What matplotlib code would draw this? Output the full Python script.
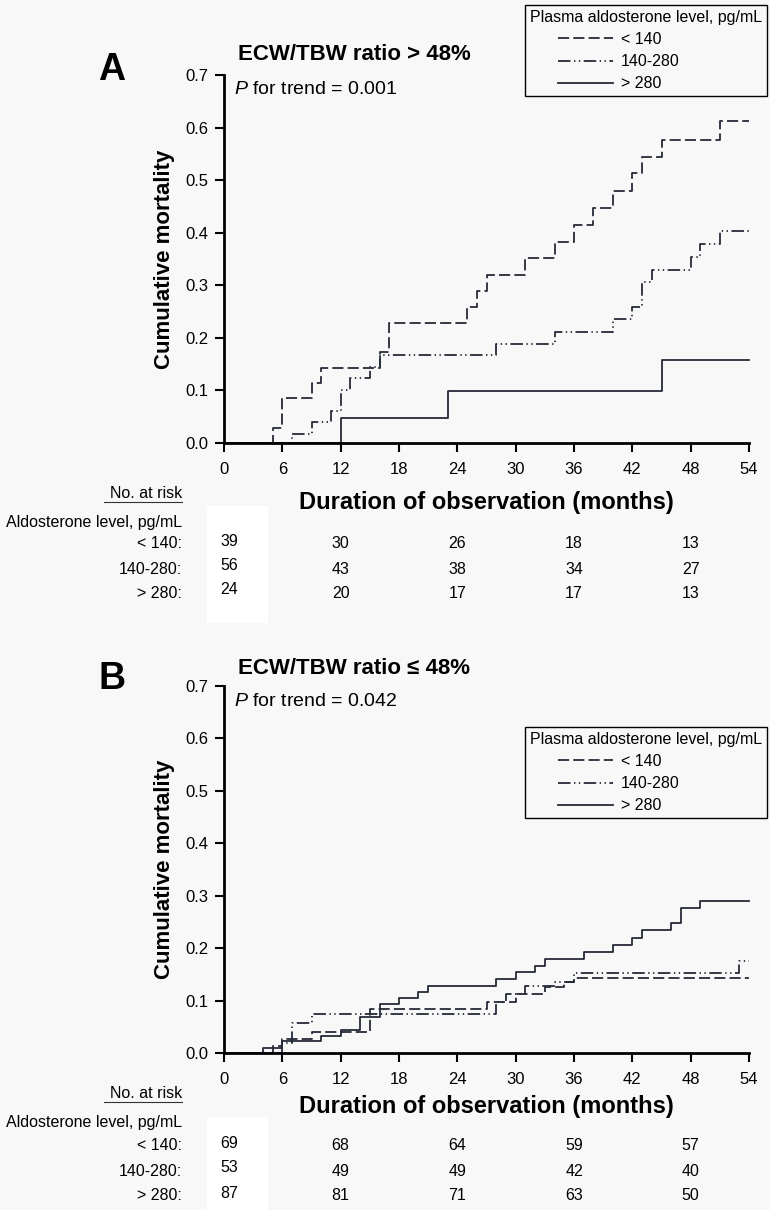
import matplotlib
matplotlib.use("Agg")
import matplotlib.pyplot as plt
from matplotlib.lines import Line2D
from matplotlib.legend_handler import HandlerLine2D
from matplotlib.patches import Rectangle
from matplotlib.transforms import blended_transform_factory

# ---- data ----
months = [0, 6, 12, 18, 24, 30, 36, 42, 48, 54]
yticks = [0.0, 0.1, 0.2, 0.3, 0.4, 0.5, 0.6, 0.7]
group_labels = ["< 140", "140-280", "> 280"]
row_labels = ["< 140:", "140-280:", "> 280:"]
risk_months = [0, 12, 24, 36, 48]

# panel A  (ECW/TBW > 48%)
a_lt140_t = [0, 5, 6, 9, 10, 16, 17, 25, 26, 27, 31, 34, 36, 38, 40, 42, 43, 45, 51, 54]
a_lt140_y = [0, .028, .086, .114, .143, .173, .228, .259, .290, .320, .351, .383, .414, .447,
             .480, .513, .544, .577, .612, .612]
a_mid_t = [0, 7, 9, 11, 12, 13, 15, 16, 28, 34, 40, 42, 43, 44, 48, 49, 51, 54]
a_mid_y = [0, .018, .040, .061, .100, .124, .145, .167, .189, .211, .235, .259, .306, .330,
           .354, .378, .403, .403]
a_hi_t = [0, 12, 23, 45, 54]
a_hi_y = [0, .048, .098, .157, .157]
a_risk_lt140 = [39, 30, 26, 18, 13]
a_risk_mid = [56, 43, 38, 34, 27]
a_risk_hi = [24, 20, 17, 17, 13]

# panel B  (ECW/TBW <= 48%)
b_lt140_t = [0, 5, 6, 9, 15, 27, 30, 33, 35, 36, 54]
b_lt140_y = [0, .013, .027, .041, .084, .098, .112, .126, .135, .143, .143]
b_mid_t = [0, 6, 7, 9, 28, 29, 31, 34, 36, 53, 54]
b_mid_y = [0, .019, .057, .075, .097, .113, .127, .135, .153, .175, .175]
b_hi_t = [0, 4, 6, 10, 12, 14, 16, 18, 20, 21, 28, 30, 32, 33, 37, 40, 42, 43, 46, 47, 49, 54]
b_hi_y = [0, .010, .022, .032, .044, .069, .093, .105, .116, .128, .142, .154, .166, .180,
          .193, .206, .220, .234, .248, .276, .290, .290]
b_risk_lt140 = [69, 68, 64, 59, 57]
b_risk_mid = [53, 49, 49, 42, 40]
b_risk_hi = [87, 81, 71, 63, 50]

# ---- style ----
W, H = 770, 1210
BG = '#f8f8f8'
INK = '#252b38'
DASH = (0, (8, 3))
DASHDOT = (0, (9, 2.5, 1, 2.5, 1, 2.5))

plt.rcParams['font.family'] = ['Liberation Sans', 'DejaVu Sans']
plt.rcParams['mathtext.fontset'] = 'custom'
plt.rcParams['mathtext.it'] = 'Liberation Sans:italic'
plt.rcParams['mathtext.rm'] = 'Liberation Sans'
plt.rcParams['lines.scale_dashes'] = False


def fx(x):
    return x / W


def fy(y):
    return 1 - y / H


class IndentHandler(HandlerLine2D):
    # legend line drawn only on right part of the handle box -> indented entries
    def get_xdata(self, legend, xdescent, ydescent, width, height, fontsize):
        x0 = -xdescent + 0.34 * width
        return [x0, -xdescent + width], [x0]


fig = plt.figure(figsize=(W / 100, H / 100), dpi=100, facecolor=BG)


def draw_panel(top, bottom, letter, letter_y, title, title_y, ptext, p_y, curves, risks,
               leg_top, tab):
    # white strip behind the first risk column
    fig.add_artist(Rectangle((fx(207), fy(tab['box'][1])), (268 - 207) / W,
                             (tab['box'][1] - tab['box'][0]) / H,
                             transform=fig.transFigure, facecolor='white',
                             edgecolor='none', zorder=-5))

    ax = fig.add_axes([fx(224), fy(bottom), (749 - 224) / W, (bottom - top) / H])
    ax.set_facecolor(BG)
    styles = [DASH, DASHDOT, '-']
    for (t, y), ls, lab in zip(curves, styles, group_labels):
        ax.step(t, y, where='post', color=INK, lw=1.3, ls=ls, label=lab, clip_on=False)
    ax.set_xlim(0, 54)
    ax.set_ylim(0, 0.7)
    ax.set_xticks(months)
    ax.set_yticks(yticks)
    ax.set_yticklabels([f"{v:.1f}" for v in yticks])
    for s in ['top', 'right']:
        ax.spines[s].set_visible(False)
    for s in ['left', 'bottom']:
        ax.spines[s].set_linewidth(2)
        ax.spines[s].set_color('black')
    ax.tick_params(axis='both', direction='out', length=6.5, width=1.5, colors='black',
                   labelsize=12)
    ax.tick_params(axis='x', pad=7)
    ax.tick_params(axis='y', pad=5)
    ax.set_ylabel("Cumulative mortality", fontsize=16, fontweight='bold')
    ax.yaxis.set_label_coords(-0.093, 0.50)

    fig.text(fx(238), fy(title_y), title, fontsize=16, fontweight='bold', va='center')
    fig.text(fx(234), fy(p_y), ptext, fontsize=14, va='center')
    fig.text(fx(112), fy(letter_y), letter, fontsize=27, fontweight='bold',
             ha='center', va='center')

    leg = ax.legend(title="Plasma aldosterone level, pg/mL", loc='upper right',
                    bbox_to_anchor=(fx(767), fy(leg_top)), bbox_transform=fig.transFigure,
                    fontsize=11.5, title_fontsize=11.5, alignment='left', frameon=True,
                    fancybox=False, edgecolor='black', facecolor=BG, framealpha=1,
                    handlelength=5.2, handletextpad=0.5, labelspacing=0.45,
                    borderpad=0.3, borderaxespad=0,
                    handler_map={Line2D: IndentHandler()})
    leg.get_frame().set_linewidth(1)

    # number at risk table
    fig.text(fx(486.5), fy(tab['xlabel']), "Duration of observation (months)",
             fontsize=17, fontweight='bold', ha='center', va='center')
    fig.text(fx(182), fy(tab['no_risk']), "No. at risk", fontsize=11.5, ha='right',
             va='center')
    fig.add_artist(Line2D([fx(104), fx(182)], [fy(tab['no_risk'] + 9)] * 2, color='#333333',
                          lw=0.8, transform=fig.transFigure))
    fig.text(fx(182), fy(tab['aldo']), "Aldosterone level, pg/mL", fontsize=11.5,
             ha='right', va='center')
    tr = blended_transform_factory(ax.transData, fig.transFigure)
    for lab, vals, ry in zip(row_labels, risks, tab['rows']):
        fig.text(fx(182), fy(ry), lab, fontsize=11.5, ha='right', va='center')
        for i, (m, v) in enumerate(zip(risk_months, vals)):
            xm = m + 0.5 if i == 0 else m
            yy = ry - 3 if i == 0 else ry
            ax.text(xm, fy(yy), str(v), transform=tr, fontsize=11.5, ha='center',
                    va='center', clip_on=False)
    return ax


draw_panel(75, 443, "A", 70, "ECW/TBW ratio > 48%", 55, r"$\it{P}$ for trend = 0.001", 90,
           [(a_lt140_t, a_lt140_y), (a_mid_t, a_mid_y), (a_hi_t, a_hi_y)],
           [a_risk_lt140, a_risk_mid, a_risk_hi], 5,
           dict(xlabel=502, no_risk=493, aldo=522, rows=[544, 569, 593], box=(506, 623)))

draw_panel(686, 1053, "B", 679, "ECW/TBW ratio \u2264 48%", 669, r"$\it{P}$ for trend = 0.042", 701,
           [(b_lt140_t, b_lt140_y), (b_mid_t, b_mid_y), (b_hi_t, b_hi_y)],
           [b_risk_lt140, b_risk_mid, b_risk_hi], 727,
           dict(xlabel=1106, no_risk=1093, aldo=1123, rows=[1146, 1171, 1196], box=(1117, 1210)))

fig.savefig("out.png", dpi=100, facecolor=BG)
